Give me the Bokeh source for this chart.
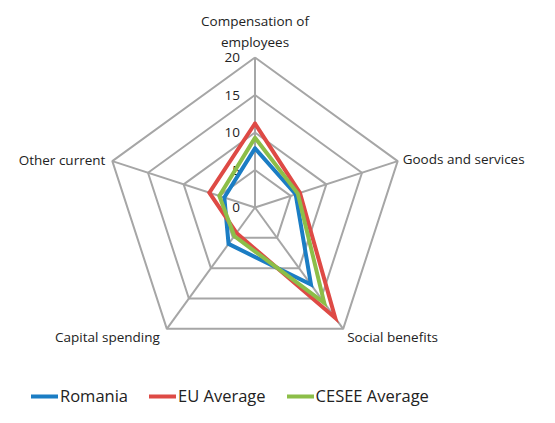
import numpy as np
from bokeh.plotting import figure
from bokeh.models import Range1d, Legend, LegendItem
from bokeh.core.properties import value
from bokeh.embed import file_html
from bokeh.resources import INLINE

# ---- data ----
categories = ["Compensation of employees", "Goods and services", "Social benefits",
              "Capital spending", "Other current"]
display_labels = ["Compensation of\nemployees", "Goods and services", "Social benefits",
                  "Capital spending", "Other current"]
romania = [7.9, 5.7, 12.7, 6.0, 4.3]
eu_average = [11.2, 6.3, 18.2, 4.2, 6.4]
cesee_average = [9.3, 6.0, 15.7, 4.7, 5.0]
tick_values = [0, 5, 10, 15, 20]
series_names = ["Romania", "EU Average", "CESEE Average"]

# ---- layout ----
W, H = 539, 407
px_per_unit = 7.5
cx_px, cy_px = 254.5, H - 207  # center in frame px (from left, from bottom)
FONT = "Open Sans"
colors = ["#1B7DC4", "#DE4A45", "#8CBE48"]
grid_color = "#A6A6A6"

n = len(categories)
angles = np.deg2rad(90 - 72 * np.arange(n))

p = figure(width=W, height=H, output_backend="svg", toolbar_location=None,
           x_range=Range1d(-cx_px / px_per_unit, (W - cx_px) / px_per_unit),
           y_range=Range1d(-cy_px / px_per_unit, (H - cy_px) / px_per_unit),
           min_border=0, outline_line_color=None)
p.axis.visible = False
p.grid.visible = False

rmax = max(tick_values)
# grid pentagons
for t in tick_values[1:]:
    xs = list(t * np.cos(angles)) + [t * np.cos(angles[0])]
    ys = list(t * np.sin(angles)) + [t * np.sin(angles[0])]
    p.line(xs, ys, line_color=grid_color, line_width=2)
# spokes
for a in angles:
    p.line([0, rmax * np.cos(a)], [0, rmax * np.sin(a)], line_color=grid_color, line_width=2)

# tick labels
p.text(x=[0] * len(tick_values), y=tick_values, text=[str(t) for t in tick_values],
       text_font=value(FONT), text_font_size="13.5px", text_color="#222222",
       text_align="right", text_baseline="middle", x_offset=-15)

# series
renderers = []
for vals, col in zip([romania, eu_average, cesee_average], colors):
    v = np.array(vals + [vals[0]])
    a = np.concatenate([angles, angles[:1]])
    r = p.line(v * np.cos(a), v * np.sin(a), line_color=col, line_width=4,
               line_join="miter", line_cap="round")
    renderers.append(r)

# category labels
aligns = ["center", "left", "left", "right", "right"]
xoffs = [0, 5, 4, -7, -7]
yoffs = [-6, -2, 8, 8, -1]
baselines = ["bottom", "middle", "middle", "middle", "middle"]
for i in range(n):
    p.text(x=[rmax * np.cos(angles[i])], y=[rmax * np.sin(angles[i])], text=[display_labels[i]],
           text_font=value(FONT), text_font_size="13.5px", text_color="#222222",
           text_align=aligns[i], text_baseline=baselines[i],
           x_offset=xoffs[i], y_offset=yoffs[i], text_line_height=1.18)

legend = Legend(items=[LegendItem(label=nm, renderers=[r]) for nm, r in zip(series_names, renderers)],
                orientation="horizontal", location=(31, 0), padding=0, margin=0,
                spacing=21, glyph_width=27, glyph_height=20, label_standoff=2,
                label_text_font=FONT, label_text_font_size="16.5px", label_text_color="#222222",
                border_line_color=None, background_fill_alpha=0)
p.add_layout(legend, "center")

open("out.html", "w").write(file_html(p, INLINE))
